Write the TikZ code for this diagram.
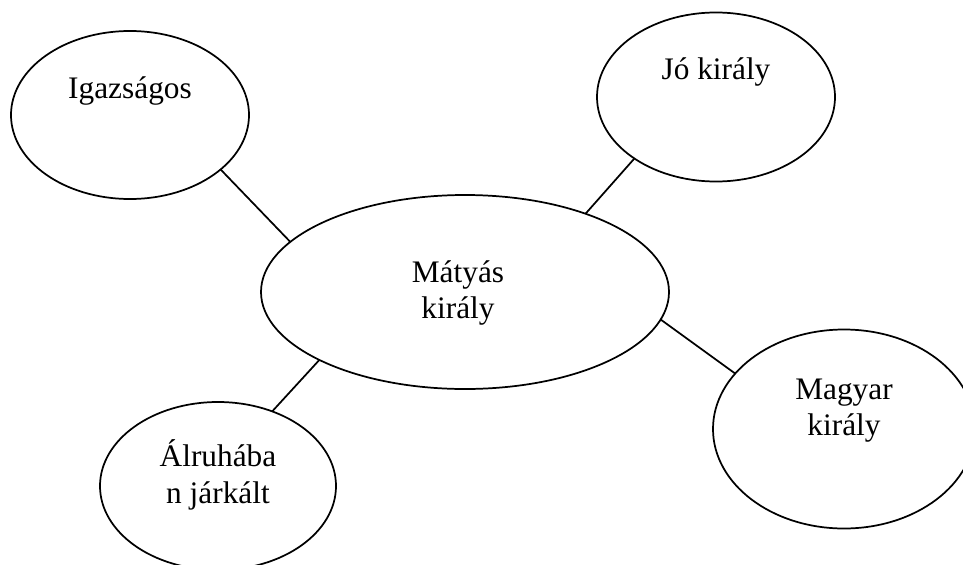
\documentclass[tikz,border=0pt]{standalone}
\usepackage{fontspec}
\setmainfont{Liberation Serif}
\usetikzlibrary{shapes.geometric}
\begin{document}
\begin{tikzpicture}[x=0.75pt,y=-0.75pt,
  bubble/.style={ellipse,draw,line width=1.3pt,inner sep=0pt,outer sep=0pt},
  link/.style={line width=1.3pt},
  txt/.style={anchor=base,inner sep=0pt,font=\fontsize{23.5}{27}\selectfont}]
\useasboundingbox (0,0) rectangle (963,564);
\clip (0,0) rectangle (963,564);
\node[bubble,minimum width={238*0.75pt},minimum height={168*0.75pt}] (igaz) at (130,115) {};
\node[bubble,minimum width={238*0.75pt},minimum height={169*0.75pt}] (jo) at (716,97) {};
\node[bubble,minimum width={408*0.75pt},minimum height={194*0.75pt}] (matyas) at (465,292) {};
\node[bubble,minimum width={262*0.75pt},minimum height={199*0.75pt}] (magyar) at (844,429) {};
\node[bubble,minimum width={236*0.75pt},minimum height={168*0.75pt}] (alruha) at (218,486) {};
\node[txt] (igazt) at (130,98) {Igazságos};
\node[txt] (jot) at (716,79) {Jó király};
\node[txt] (matt1) at (458,282) {Mátyás};
\node[txt] (matt2) at (458,318) {király};
\node[txt] (magt1) at (844,399) {Magyar};
\node[txt] (magt2) at (844,435) {király};
\node[txt] (alrt1) at (218,466) {Álruhába};
\node[txt] (alrt2) at (218,503) {n járkált};
\draw[link] (igaz.-31.9) -- (matyas.164.1);
\draw[link] (jo.-143.5) -- (matyas.33.3);
\draw[link] (matyas.-8) -- (magyar.153.8);
\draw[link] (matyas.-155.8) -- (alruha.54.1);
\end{tikzpicture}
\end{document}
